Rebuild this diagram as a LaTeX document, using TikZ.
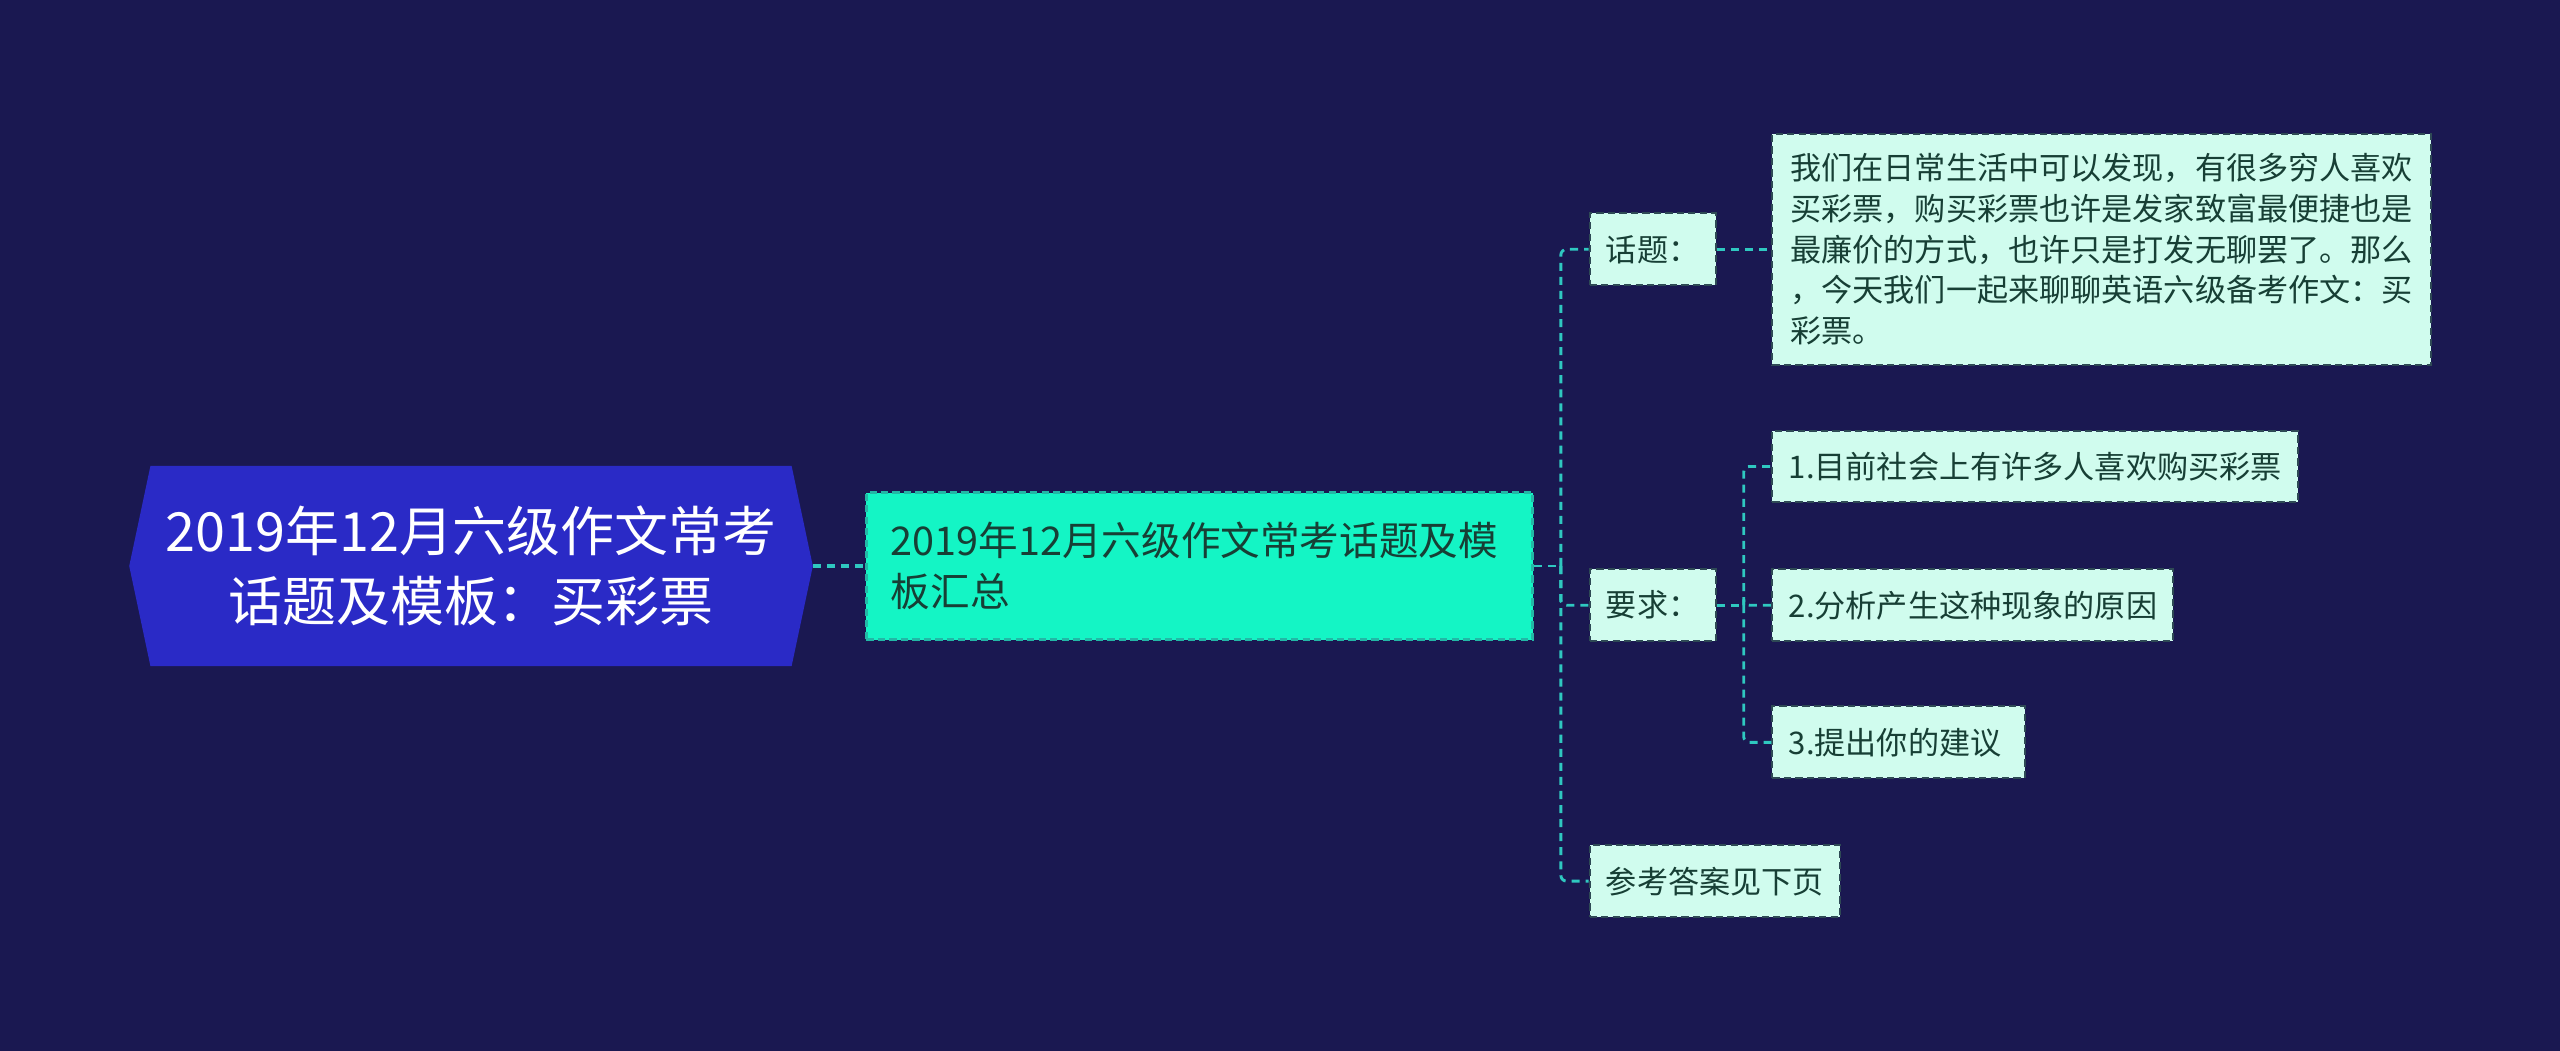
\documentclass[tikz,border=0pt]{standalone}
\usepackage{fontspec}
\setmainfont{Noto Sans CJK SC}
\usepackage{xcolor}
\usepackage{tikz}
\usetikzlibrary{positioning, calc, backgrounds}
\definecolor{mnavy}{HTML}{1A1851}
\definecolor{mroot}{HTML}{2A2AC6}
\definecolor{mmain}{HTML}{14F5C5}
\definecolor{mmainline}{HTML}{22B8A6}
\definecolor{mleaf}{HTML}{D0FCEE}
\definecolor{mleafline}{HTML}{2E4A55}
\definecolor{mlink}{HTML}{2FC8C0}
\definecolor{mtext}{HTML}{173F35}

\tikzset{
  rootbox/.style={text=white, align=center, minimum width=7.84cm, minimum height=2.44cm,
    font=\fontsize{18.8}{24.4}\selectfont},
  mainbox/.style={fill=mmain, draw=mmainline, dash pattern=on 2.5pt off 1.5pt, line width=0.8pt,
    text=mtext, align=left, anchor=west, inner xsep=0.3cm, minimum height=1.8cm,
    text width=7.56cm, font=\fontsize{13.8}{17.6}\selectfont},
  leafbox/.style={fill=mleaf, draw=mleafline, dash pattern=on 2.5pt off 1.5pt, line width=0.7pt,
    text=mtext, align=left, anchor=west, inner xsep=0.2cm, inner ysep=0.16cm,
    minimum height=0.88cm, font=\fontsize{10.85}{14.2}\selectfont},
  link/.style={draw=mlink, line width=1pt, dash pattern=on 2.8pt off 2.1pt},
}

\begin{document}
\begin{tikzpicture}[x=1cm, y=1cm]

  %% Root
  \node[rootbox] (root) at (5.77,5.94) {2019年12月六级作文常考\\话题及模板：买彩票};

  %% Main topic
  \node[mainbox] (main) at (10.6,5.94) {2019年12月六级作文常考话题及模\\板汇总};

  %% Branches
  \node[leafbox] (topic) at (19.46,9.82) {话题：};
  \node[leafbox] (req) at (19.46,5.46) {要求：};
  \node[leafbox] (answer) at (19.46,2.08) {参考答案见下页};

  \node[leafbox, inner xsep=0.22cm, inner ysep=0.24cm] (topicdesc) at (21.7,9.82)
    {我们在日常生活中可以发现，有很多穷人喜欢\\买彩票，购买彩票也许是发家致富最便捷也是\\最廉价的方式，也许只是打发无聊罢了。那么\\，今天我们一起来聊聊英语六级备考作文：买\\彩票。};

  \foreach \y/\nm/\txt in {
    7.16/req1/{1.目前社会上有许多人喜欢购买彩票},
    5.46/req2/{2.分析产生这种现象的原因},
    3.78/req3/{3.提出你的建议}
  }{
    \node[leafbox] (\nm) at (21.7,\y) {\txt};
  }

  %% Background and root shape
  \begin{scope}[on background layer]
    \fill[mnavy] (0,0) rectangle (31.36,12.874);
    \fill[mroot] (root.north west) -- (root.north east) -- ([xshift=0.26cm]root.east)
      -- (root.south east) -- (root.south west) -- ([xshift=-0.26cm]root.west) -- cycle;
  \end{scope}

  %% Connectors
  \coordinate (rootout) at ([xshift=0.26cm]root.east);
  \draw[link, line width=1.6pt] (rootout) -- (main.west);

  \coordinate (fork) at (19.12,5.94);
  \draw[link] (main.east) -- (fork);
  \foreach \nm in {topic, req, answer}{
    \draw[link, rounded corners=2pt] (fork) |- (\nm.west);
  }
  \draw[link] (topic.east) -- (topicdesc.west);

  \coordinate (subfork) at (21.36,5.46);
  \draw[link] (req.east) -- (subfork);
  \foreach \nm in {req1, req2, req3}{
    \draw[link, rounded corners=2pt] (subfork) |- (\nm.west);
  }

\end{tikzpicture}
\end{document}
